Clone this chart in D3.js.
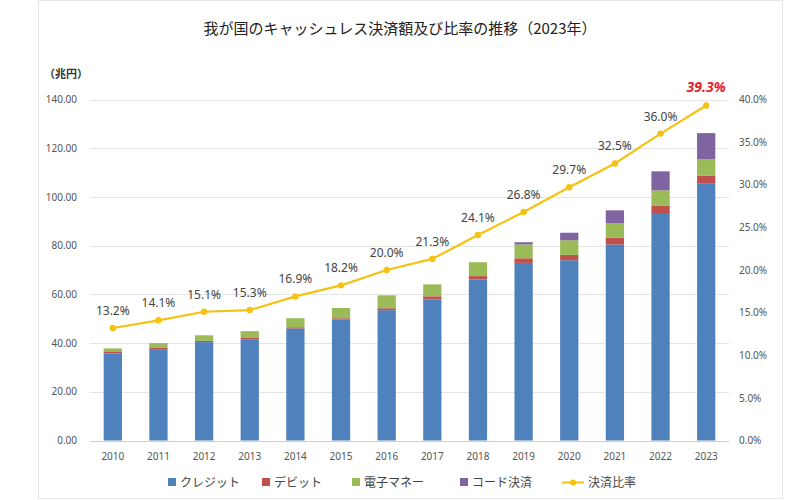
<!DOCTYPE html>
<html><head><meta charset="utf-8">
<script src="https://cdn.jsdelivr.net/npm/d3@7"></script>
<style>body{margin:0;background:#fff;font-family:"Noto Sans CJK JP","Noto Sans",sans-serif}</style>
</head><body><svg id="c" width="795" height="500"></svg>
<script>
var years = ['2010','2011','2012','2013','2014','2015','2016','2017','2018','2019','2020','2021','2022','2023'];
var credit = [35.7,37.5,40.4,41.6,46.0,49.7,53.5,57.9,66.1,72.9,74.0,80.5,93.4,105.4];
var debit = [0.9,0.7,0.5,0.5,0.5,0.5,0.8,1.3,1.4,1.9,2.2,2.8,3.1,3.4];
var emoney = [1.2,1.8,2.3,2.8,3.7,4.2,5.3,4.9,5.7,5.7,6.0,6.0,6.2,6.6];
var code = [0,0,0,0,0,0,0,0,0,0.9,3.1,5.2,7.8,10.8];
var ratio = [13.2,14.1,15.1,15.3,16.9,18.2,20.0,21.3,24.1,26.8,29.7,32.5,36.0,39.3];
var seriesNames = ['クレジット','デビット','電子マネー','コード決済'];
var colors = ['#4f81bd','#c0504d','#9bbb59','#8064a2'];
var lineColor = '#f5c211';

var svg = d3.select('#c');
var x = d3.scaleBand().domain(years).range([90, 729]).paddingInner(0.6).paddingOuter(0.3);
var y = d3.scaleLinear().domain([0, 140]).range([440.5, 99.5]);
var y2 = d3.scaleLinear().domain([0, 40]).range([440.5, 99.5]);

svg.append('rect').attr('x', 38.5).attr('y', 0.5).attr('width', 744).attr('height', 498)
  .attr('fill', 'none').attr('stroke', '#e6e6e6');

svg.append('text').attr('x', 400).attr('y', 34).attr('text-anchor', 'middle')
  .attr('font-size', 15).attr('fill', '#222').text('我が国のキャッシュレス決済額及び比率の推移（2023年）');
svg.append('text').attr('x', 44).attr('y', 78).attr('font-size', 11).attr('font-weight', 'bold')
  .attr('fill', '#333').text('（兆円）');

var ticks = d3.range(0, 141, 20);
svg.append('g').selectAll('line').data(ticks).enter().append('line')
  .attr('x1', 90).attr('x2', 729)
  .attr('y1', function (d) { return Math.round(y(d)) + 0.5; })
  .attr('y2', function (d) { return Math.round(y(d)) + 0.5; })
  .attr('stroke', function (d) { return d ? '#e4e4e4' : '#cfcfcf'; });

svg.append('g').attr('transform', 'translate(80,0)')
  .call(d3.axisLeft(y).tickValues(ticks).tickFormat(d3.format('.2f')).tickSize(0))
  .call(function (g) { g.select('.domain').remove(); })
  .selectAll('text').attr('font-size', 10).attr('fill', '#555').attr('font-family', 'Noto Sans');

svg.append('g').attr('transform', 'translate(736,0)')
  .call(d3.axisRight(y2).tickValues(d3.range(0, 41, 5)).tickFormat(function (d) { return d.toFixed(1) + '%'; }).tickSize(0))
  .call(function (g) { g.select('.domain').remove(); })
  .selectAll('text').attr('font-size', 10).attr('fill', '#555').attr('font-family', 'Noto Sans');

svg.append('g').attr('transform', 'translate(0,441)')
  .call(d3.axisBottom(x).tickSize(0).tickPadding(12))
  .call(function (g) { g.select('.domain').remove(); })
  .selectAll('text').attr('font-size', 10).attr('fill', '#555').attr('font-family', 'Noto Sans');

var rows = years.map(function (yr, i) {
  return { year: yr, credit: credit[i], debit: debit[i], emoney: emoney[i], code: code[i] };
});
var stack = d3.stack().keys(['credit','debit','emoney','code'])(rows);
svg.append('g').selectAll('g').data(stack).enter().append('g')
  .attr('fill', function (d, i) { return colors[i]; })
  .selectAll('rect').data(function (d) { return d; }).enter().append('rect')
  .attr('x', function (d) { return x(d.data.year); })
  .attr('width', x.bandwidth())
  .attr('y', function (d) { return y(d[1]); })
  .attr('height', function (d) { return y(d[0]) - y(d[1]); });

var cx = function (d, i) { return x(years[i]) + x.bandwidth() / 2; };
svg.append('path').datum(ratio)
  .attr('fill', 'none').attr('stroke', lineColor).attr('stroke-width', 2.2)
  .attr('d', d3.line().x(cx).y(function (d) { return y2(d); }));
svg.append('g').selectAll('circle').data(ratio).enter().append('circle')
  .attr('cx', cx).attr('cy', function (d) { return y2(d); }).attr('r', 3.2).attr('fill', lineColor);
svg.append('g').selectAll('text').data(ratio).enter().append('text')
  .attr('x', cx).attr('y', function (d) { return y2(d) - 13; })
  .attr('text-anchor', 'middle')
  .attr('font-family', 'Noto Sans')
  .attr('font-size', function (d, i) { return i === ratio.length - 1 ? 14 : 12; })
  .attr('font-weight', function (d, i) { return i === ratio.length - 1 ? 'bold' : 'normal'; })
  .attr('font-style', function (d, i) { return i === ratio.length - 1 ? 'italic' : 'normal'; })
  .attr('fill', function (d, i) { return i === ratio.length - 1 ? '#e8202a' : '#444'; })
  .text(function (d) { return d.toFixed(1) + '%'; });

var legend = svg.append('g').attr('font-size', 12).attr('fill', '#444');
var lx = [168, 262, 352, 460];
seriesNames.forEach(function (n, i) {
  legend.append('rect').attr('x', lx[i]).attr('y', 478).attr('width', 8).attr('height', 8).attr('fill', colors[i]);
  legend.append('text').attr('x', lx[i] + 12).attr('y', 487).text(n);
});
legend.append('line').attr('x1', 562).attr('x2', 584).attr('y1', 482.5).attr('y2', 482.5)
  .attr('stroke', lineColor).attr('stroke-width', 2);
legend.append('circle').attr('cx', 573).attr('cy', 482.5).attr('r', 3).attr('fill', lineColor);
legend.append('text').attr('x', 588).attr('y', 487).text('決済比率');
</script></body></html>
